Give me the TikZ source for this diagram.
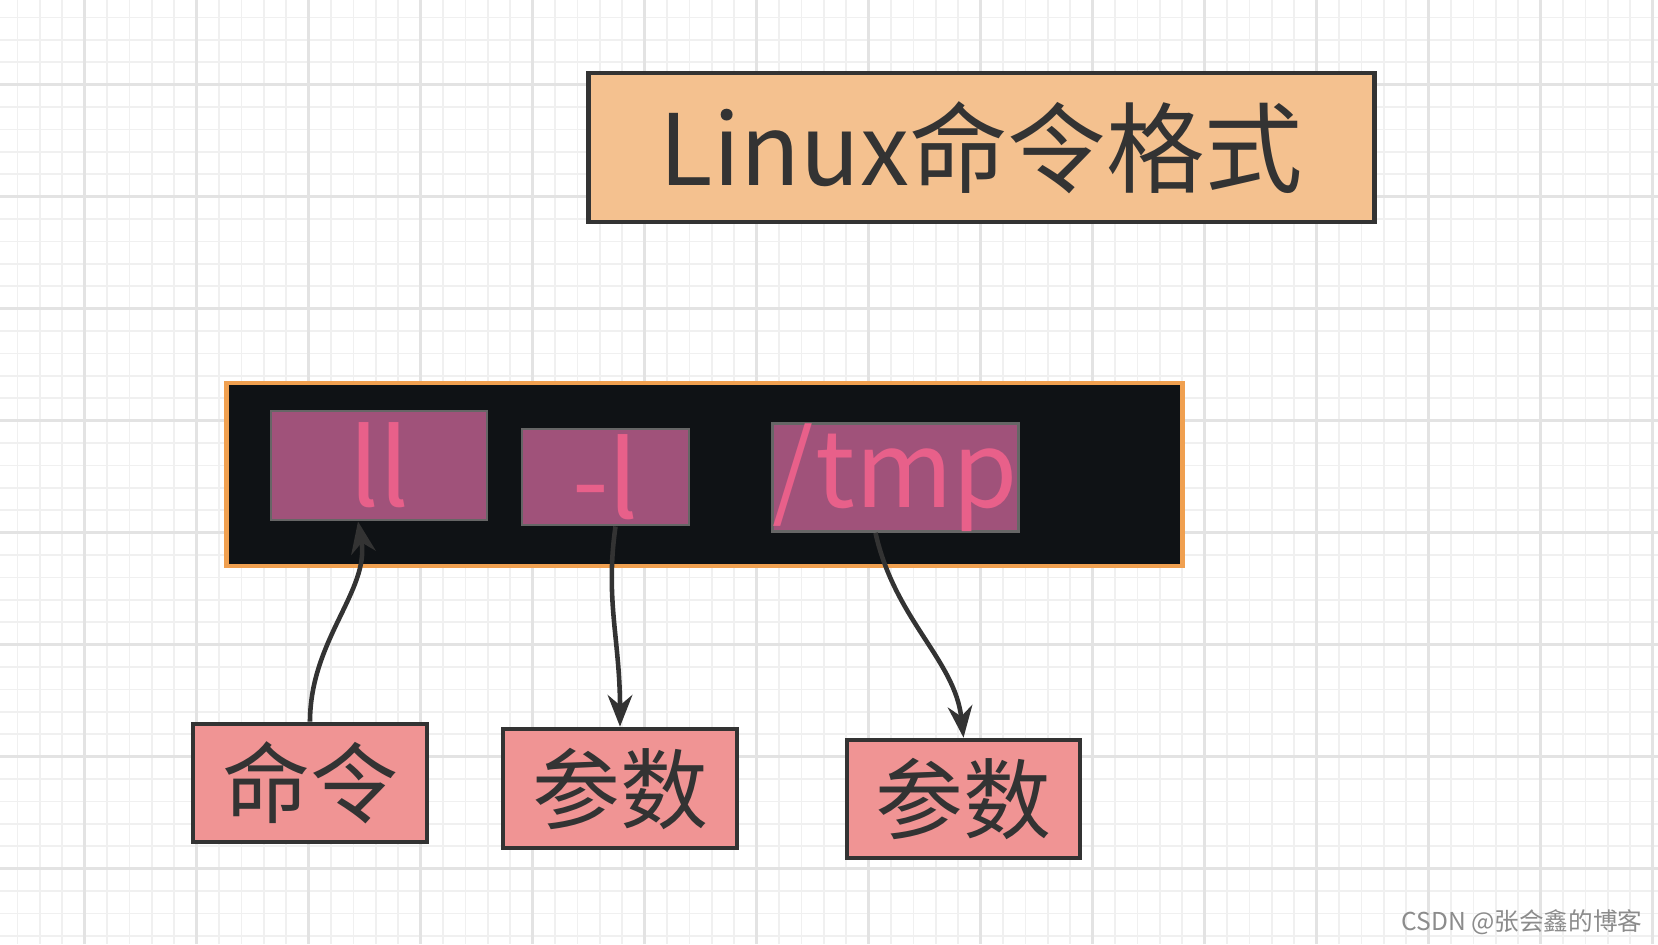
\documentclass[tikz,border=0pt]{standalone}
\usepackage{fontspec}
\setmainfont{Noto Sans CJK SC}
\usetikzlibrary{arrows.meta}
\definecolor{titlef}{HTML}{F4C18F}
\definecolor{termf}{HTML}{0F1215}
\definecolor{termb}{HTML}{F0A050}
\definecolor{tokf}{HTML}{A0527A}
\definecolor{tokt}{HTML}{E8608A}
\definecolor{lblf}{HTML}{F09494}
\definecolor{ink}{HTML}{333333}
\begin{document}
\begin{tikzpicture}[x=0.01cm,y=-0.01cm,
  box/.style={draw=ink,line width=1.3pt,inner sep=0pt},
  tok/.style={draw=black!60,line width=0.8pt,fill=tokf,text=tokt,font=\fontsize{30}{30}\selectfont,inner sep=0pt},
  lbl/.style={box,fill=lblf,text=ink,font=\fontsize{25}{25}\selectfont},
  arr/.style={draw=ink,line width=1.3pt,-{Stealth[length=9pt,width=7pt]}}]
\useasboundingbox (0,0) rectangle (1658,944);
\fill[white] (0,0) rectangle (1658,944);
\foreach \i in {0,...,74} {\draw[black!6,line width=0.5pt] ({-27.4+22.4*\i},0) -- ++(0,944);}
\foreach \i in {0,...,43} {\draw[black!6,line width=0.5pt] (0,{-27.4+22.4*\i}) -- ++(1658,0);}
\foreach \i in {0,...,15} {\draw[black!11,line width=1pt] ({-27.4+112*\i},0) -- ++(0,944);}
\foreach \i in {0,...,9} {\draw[black!11,line width=1pt] (0,{-27.4+112*\i}) -- ++(1658,0);}
\node[box,fill=titlef,minimum width=785\pgflinewidth,text=ink,font=\fontsize{28}{28}\selectfont] (title) at (981.5,147.5) [minimum width=7.85cm,minimum height=1.49cm] {Linux命令格式};
\node[draw=termb,line width=1.3pt,fill=termf,minimum width=9.55cm,minimum height=1.83cm] (term) at (704.5,474.5) {};
\node[tok,minimum width=2.16cm,minimum height=1.09cm] (ll) at (379,465.5) {ll};
\node[tok,minimum width=1.67cm,minimum height=0.96cm] (l) at (605.5,477) {-l};
\node[tok,minimum width=2.39cm,minimum height=1.07cm] (tmp) at (895.5,477.5) {/tmp};
\node[lbl,minimum width=2.34cm,minimum height=1.18cm] (cmd) at (310,783) {命令};
\node[lbl,minimum width=2.34cm,minimum height=1.19cm] (p1) at (620,788.5) {参数};
\node[lbl,minimum width=2.33cm,minimum height=1.18cm] (p2) at (963.5,799) {参数};
\draw[arr] (cmd.north) .. controls (310,640) and (370,590) .. ([xshift=-0.21cm]ll.south);
\draw[arr] ([xshift=0.1cm]l.south) .. controls (605,600) and (620,640) .. (p1.north);
\draw[arr] ([xshift=-0.2cm]tmp.south) .. controls (895,620) and (955,660) .. (p2.north);
\node[text=black!45,font=\fontsize{7}{7}\selectfont,anchor=south east,inner sep=0pt] (wm) at (1643,935) {CSDN @张会鑫的博客};
\end{tikzpicture}
\end{document}
